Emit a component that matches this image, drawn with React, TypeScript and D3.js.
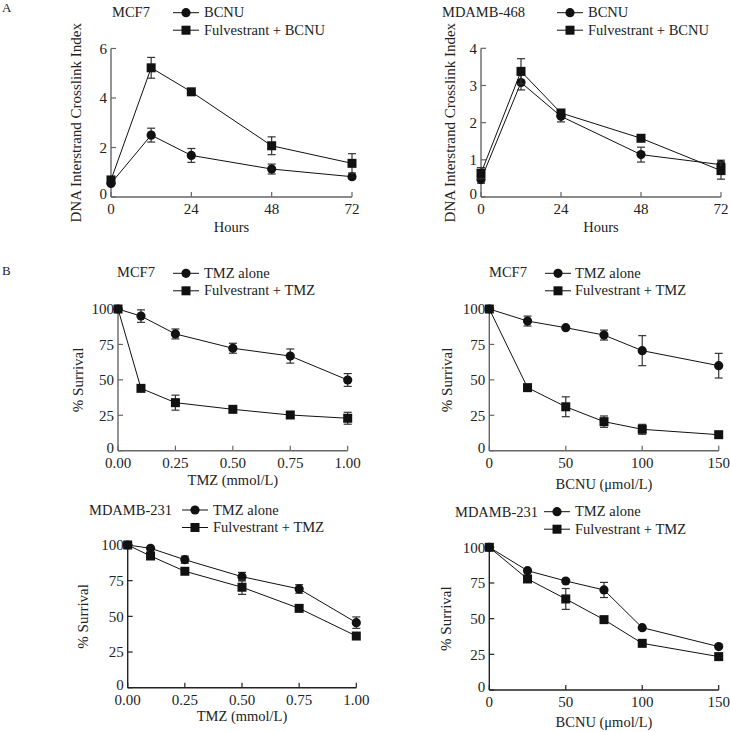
import React from 'react';
import * as d3 from 'd3';

const FONT = "'Liberation Serif', 'Times New Roman', serif";

// ---- data ----
const hours = [0, 12, 24, 48, 72];
const mcf7Bcnu = [0.55, 2.5, 1.68, 1.13, 0.82];
const mcf7BcnuErr = [0.08, 0.28, 0.28, 0.2, 0.08];
const mcf7FulvBcnu = [0.69, 5.22, 4.25, 2.07, 1.36];
const mcf7FulvBcnuErr = [0.1, 0.42, 0.06, 0.36, 0.39];

const mda468Bcnu = [0.47, 3.08, 2.17, 1.14, 0.87];
const mda468BcnuErr = [0.1, 0.2, 0.15, 0.2, 0.12];
const mda468FulvBcnu = [0.64, 3.38, 2.26, 1.58, 0.71];
const mda468FulvBcnuErr = [0.15, 0.34, 0.05, 0.05, 0.23];

const tmzDose = [0, 0.1, 0.25, 0.5, 0.75, 1.0];
const mcf7Tmz = [100, 95, 82.4, 72.3, 66.8, 49.9];
const mcf7TmzErr = [0, 4.4, 3.5, 3.5, 5, 4.5];
const mcf7FulvTmz = [100, 44, 33.9, 29.2, 25.2, 22.9];
const mcf7FulvTmzErr = [0, 0, 5.3, 0, 0, 4.2];

const bcnuDose = [0, 25, 50, 75, 100, 150];
const mcf7BcnuSurv = [100, 91.5, 86.8, 81.6, 70.6, 60];
const mcf7BcnuSurvErr = [0, 3.5, 0, 3.5, 10.6, 8.7];
const mcf7FulvBcnuSurv = [100, 44.5, 31, 20.5, 15.1, 11.3];
const mcf7FulvBcnuSurvErr = [0, 0, 7, 4, 3.5, 0];

const mda231Tmz = [100, 97.7, 89.7, 77.8, 69.2, 45.6];
const mda231TmzErr = [0, 0, 2.5, 3, 3, 4];
const mda231FulvTmz = [100, 92.3, 81.6, 70.4, 55.6, 36.2];
const mda231FulvTmzErr = [0, 0, 0, 5, 0, 0];

const mda231BcnuSurv = [100, 83.6, 76.4, 70.1, 43.7, 30.4];
const mda231BcnuSurvErr = [0, 0, 0, 5.3, 0, 0];
const mda231FulvBcnuSurv = [100, 77.8, 63.8, 49.3, 32.7, 23.4];
const mda231FulvBcnuSurvErr = [0, 0, 7.3, 0, 0, 0];

const bcnuNames = ['BCNU', 'Fulvestrant + BCNU'];
const tmzNames = ['TMZ alone', 'Fulvestrant + TMZ'];
const hourTicks = [0, 24, 48, 72];
const tmzTicks = [0, 0.25, 0.5, 0.75, 1];
const bcnuTicks = [0, 50, 100, 150];
const survTicks = [0, 25, 50, 75, 100];

type PanelCfg = {
  x0: number; x1: number; y0: number; y1: number;
  xMax: number; yMax: number;
  xTicks: number[]; yTicks: number[]; xFmt: (v: number) => string;
  xLabel: string; yLabel: string; yLabelX: number; xLabelY: number;
  title: string; titleX: number; titleY: number;
  legX: number; legY: number; legTextX: number;
  names: string[]; xs: number[];
  circ: number[]; circErr: number[]; sq: number[]; sqErr: number[];
  axisColor: string;
};

const panels: PanelCfg[] = [
  {
    x0: 111, x1: 352, y0: 197, y1: 48.5, xMax: 72, yMax: 6,
    xTicks: hourTicks, yTicks: [0, 2, 4, 6], xFmt: d3.format('d'),
    xLabel: 'Hours', yLabel: 'DNA Interstrand Crosslink Index', yLabelX: 81, xLabelY: 232,
    title: 'MCF7', titleX: 112, titleY: 17, legX: 173, legY: 12.7, legTextX: 204,
    names: bcnuNames, xs: hours,
    circ: mcf7Bcnu, circErr: mcf7BcnuErr, sq: mcf7FulvBcnu, sqErr: mcf7FulvBcnuErr,
    axisColor: '#666',
  },
  {
    x0: 481, x1: 721, y0: 197, y1: 48.3, xMax: 72, yMax: 4,
    xTicks: hourTicks, yTicks: [0, 1, 2, 3, 4], xFmt: d3.format('d'),
    xLabel: 'Hours', yLabel: 'DNA Interstrand Crosslink Index', yLabelX: 455, xLabelY: 232,
    title: 'MDAMB-468', titleX: 442, titleY: 17, legX: 557, legY: 12.7, legTextX: 588,
    names: bcnuNames, xs: hours,
    circ: mda468Bcnu, circErr: mda468BcnuErr, sq: mda468FulvBcnu, sqErr: mda468FulvBcnuErr,
    axisColor: '#666',
  },
  {
    x0: 118, x1: 347.7, y0: 450.7, y1: 309, xMax: 1, yMax: 100,
    xTicks: tmzTicks, yTicks: survTicks, xFmt: d3.format('.2f'),
    xLabel: 'TMZ (mmol/L)', yLabel: '% Surrival', yLabelX: 83, xLabelY: 485,
    title: 'MCF7', titleX: 117, titleY: 277, legX: 173, legY: 273.3, legTextX: 204,
    names: tmzNames, xs: tmzDose,
    circ: mcf7Tmz, circErr: mcf7TmzErr, sq: mcf7FulvTmz, sqErr: mcf7FulvTmzErr,
    axisColor: '#666',
  },
  {
    x0: 489.3, x1: 718.7, y0: 450.7, y1: 309, xMax: 150, yMax: 100,
    xTicks: bcnuTicks, yTicks: survTicks, xFmt: d3.format('d'),
    xLabel: 'BCNU (\u03bcmol/L)', yLabel: '% Surrival', yLabelX: 452, xLabelY: 489,
    title: 'MCF7', titleX: 489, titleY: 277, legX: 545, legY: 273.3, legTextX: 575,
    names: tmzNames, xs: bcnuDose,
    circ: mcf7BcnuSurv, circErr: mcf7BcnuSurvErr, sq: mcf7FulvBcnuSurv, sqErr: mcf7FulvBcnuSurvErr,
    axisColor: '#666',
  },
  {
    x0: 127.7, x1: 356.3, y0: 687.7, y1: 545, xMax: 1, yMax: 100,
    xTicks: tmzTicks, yTicks: survTicks, xFmt: d3.format('.2f'),
    xLabel: 'TMZ (mmol/L)', yLabel: '% Surrival', yLabelX: 88, xLabelY: 721,
    title: 'MDAMB-231', titleX: 89, titleY: 515, legX: 182, legY: 510, legTextX: 213,
    names: tmzNames, xs: tmzDose,
    circ: mda231Tmz, circErr: mda231TmzErr, sq: mda231FulvTmz, sqErr: mda231FulvTmzErr,
    axisColor: '#222',
  },
  {
    x0: 489.3, x1: 718.7, y0: 690, y1: 547.3, xMax: 150, yMax: 100,
    xTicks: bcnuTicks, yTicks: survTicks, xFmt: d3.format('d'),
    xLabel: 'BCNU (\u03bcmol/L)', yLabel: '% Surrival', yLabelX: 451, xLabelY: 727,
    title: 'MDAMB-231', titleX: 455, titleY: 517, legX: 544, legY: 511.7, legTextX: 575,
    names: tmzNames, xs: bcnuDose,
    circ: mda231BcnuSurv, circErr: mda231BcnuSurvErr, sq: mda231FulvBcnuSurv, sqErr: mda231FulvBcnuSurvErr,
    axisColor: '#222',
  },
];

function Marker({ kind, cx, cy }: { kind: string; cx: number; cy: number }) {
  if (kind === 'circle') return <circle cx={cx} cy={cy} r={4.6} fill="#111" />;
  return <rect x={cx - 4.5} y={cy - 4.5} width={9} height={9} fill="#111" />;
}

function Panel({ p }: { p: PanelCfg }) {
  const x = d3.scaleLinear().domain([0, p.xMax]).range([p.x0, p.x1]);
  const y = d3.scaleLinear().domain([0, p.yMax]).range([p.y0, p.y1]);
  const line = d3.line<[number, number]>().x(d => x(d[0])).y(d => y(d[1]));
  const series = [
    { kind: 'circle', vals: p.circ, errs: p.circErr },
    { kind: 'square', vals: p.sq, errs: p.sqErr },
  ];
  const legLen = 26;
  return (
    <g fontFamily={FONT} fill="#222">
      {/* axes, ticks point inward */}
      <line x1={p.x0} x2={p.x0} y1={p.y0} y2={y(p.yMax)} stroke={p.axisColor} strokeWidth={1.4} />
      <line x1={p.x0} x2={p.x1} y1={p.y0} y2={p.y0} stroke={p.axisColor} strokeWidth={1.4} />
      {p.yTicks.map(t => (
        <g key={'y' + t}>
          <line x1={p.x0} x2={p.x0 + 5} y1={y(t)} y2={y(t)} stroke={p.axisColor} strokeWidth={1.2} />
          <text x={p.x0 - 4} y={t === 0 ? y(t) - 3 : y(t)} dy="0.35em" textAnchor="end" fontSize={15}>{t}</text>
        </g>
      ))}
      {p.xTicks.map(t => (
        <g key={'x' + t}>
          <line x1={x(t)} x2={x(t)} y1={p.y0} y2={p.y0 - 5} stroke={p.axisColor} strokeWidth={1.2} />
          <text x={x(t)} y={p.y0 + 17} textAnchor="middle" fontSize={15}>{p.xFmt(t)}</text>
        </g>
      ))}
      <text x={(p.x0 + p.x1) / 2} y={p.xLabelY} textAnchor="middle" fontSize={14.5}>{p.xLabel}</text>
      <text transform={`translate(${p.yLabelX},${(p.y0 + y(p.yMax)) / 2}) rotate(-90)`}
        textAnchor="middle" fontSize={15}>{p.yLabel}</text>

      {/* data */}
      {series.map(s => {
        const pts = p.xs.map((v, i) => [v, s.vals[i]] as [number, number]);
        return (
          <g key={s.kind}>
            <path d={line(pts) || ''} fill="none" stroke="#111" strokeWidth={1} />
            {pts.map((d, i) => s.errs[i] > 0 ? (
              <g key={i} stroke="#333" strokeWidth={1.2}>
                <line x1={x(d[0])} x2={x(d[0])} y1={y(d[1] - s.errs[i])} y2={y(d[1] + s.errs[i])} />
                <line x1={x(d[0]) - 4} x2={x(d[0]) + 4} y1={y(d[1] + s.errs[i])} y2={y(d[1] + s.errs[i])} />
                <line x1={x(d[0]) - 4} x2={x(d[0]) + 4} y1={y(d[1] - s.errs[i])} y2={y(d[1] - s.errs[i])} />
              </g>
            ) : null)}
            {pts.map((d, i) => <Marker key={'m' + i} kind={s.kind} cx={x(d[0])} cy={y(d[1])} />)}
          </g>
        );
      })}

      {/* title + legend */}
      <text x={p.titleX} y={p.titleY} fontSize={14.5}>{p.title}</text>
      {series.map((s, i) => {
        const ly = p.legY + i * 17.5;
        return (
          <g key={'leg' + i}>
            <line x1={p.legX} x2={p.legX + legLen} y1={ly} y2={ly} stroke="#111" strokeWidth={1} />
            <Marker kind={s.kind} cx={p.legX + legLen / 2} cy={ly} />
            <text x={p.legTextX} y={ly + 4.6} fontSize={14.5}>{p.names[i]}</text>
          </g>
        );
      })}
    </g>
  );
}

export default function App() {
  return (
    <svg width={730} height={732} style={{ position: 'absolute', left: 0, top: 0, background: '#fff' }}>
      <rect width={730} height={732} fill="#fff" />
      <text x={2} y={12} fontFamily={FONT} fontSize={13} fill="#222">A</text>
      <text x={2} y={275} fontFamily={FONT} fontSize={13} fill="#222">B</text>
      {panels.map((p, i) => <Panel key={i} p={p} />)}
    </svg>
  );
}
